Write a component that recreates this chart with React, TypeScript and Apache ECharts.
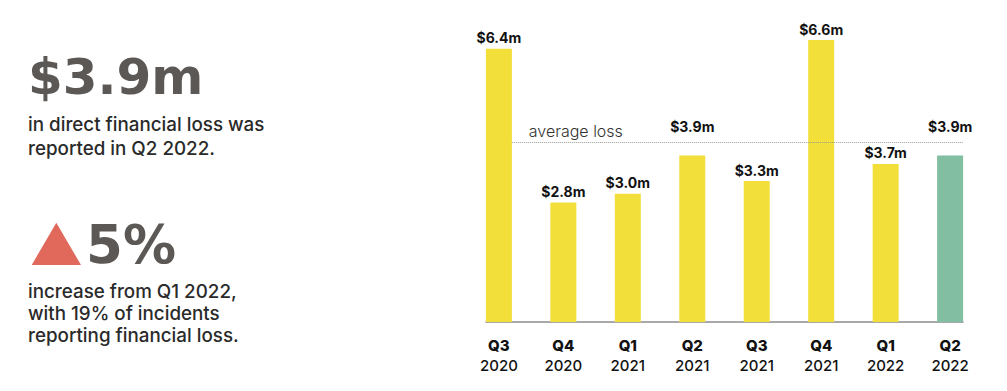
import React, { useEffect, useRef } from "react";
import * as echarts from "echarts";

const quarters = ["Q3", "Q4", "Q1", "Q2", "Q3", "Q4", "Q1", "Q2"];
const years = ["2020", "2020", "2021", "2021", "2021", "2021", "2022", "2022"];
const losses = [6.4, 2.8, 3.0, 3.9, 3.3, 6.6, 3.7, 3.9];
const headline = "$3.9m";
const headlineText = ["in direct financial loss was", "reported in Q2 2022."];
const changeValue = "5%";
const changeText = ["increase from Q1 2022,", "with 19% of incidents", "reporting financial loss."];
const averageLabel = "average loss";

const YELLOW = "#f2df3a";
const GREEN = "#82bea1";
const FONT = "Inter, 'Noto Sans', sans-serif";
const BIG_FONT = "'DejaVu Sans', sans-serif";

export default function App() {
  const ref = useRef<HTMLDivElement>(null);
  useEffect(() => {
    document.body.style.margin = "0";
    if (!ref.current) return;
    const chart = echarts.init(ref.current, null, { renderer: "svg" });
    const avg = losses.reduce((a, b) => a + b, 0) / losses.length;
    const last = losses.length - 1;
    const data = losses.map((v, i) => ({
      value: [i, v],
      itemStyle: { color: i === last ? GREEN : YELLOW },
      label: { distance: v <= avg && avg - v < 0.45 ? 22 : 4 },
    }));
    chart.setOption({
      animation: false,
      textStyle: { fontFamily: FONT },
      grid: { left: 486, right: 44, top: 23, bottom: 69 },
      xAxis: {
        type: "value",
        min: -0.2,
        max: last + 0.2,
        splitLine: { show: false },
        axisTick: { show: false },
        axisLine: { show: true, lineStyle: { color: "#8c8c8c", width: 1.5 } },
        axisLabel: {
          customValues: losses.map((_, i) => i),
          margin: 13,
          formatter: (v: number) => {
            const i = Math.round(v);
            return `{q|${quarters[i]}}\n{y|${years[i]}}`;
          },
          rich: {
            q: { fontFamily: FONT, fontWeight: 800, fontSize: 15, color: "#111", lineHeight: 20 },
            y: { fontFamily: FONT, fontWeight: 500, fontSize: 15, color: "#111", lineHeight: 20 },
          },
        },
      },
      yAxis: { type: "value", min: 0, max: 7, show: false, splitLine: { show: false } },
      series: [
        {
          type: "bar",
          barWidth: 26,
          data,
          label: {
            show: true,
            position: "top",
            fontFamily: FONT,
            fontWeight: 700,
            fontSize: 14,
            color: "#111",
            formatter: (p: any) => `$${p.value[1].toFixed(1)}m`,
          },
          markLine: {
            silent: true,
            symbol: "none",
            lineStyle: { type: "dotted", color: "#9a9a9a", width: 1 },
            label: {
              show: true,
              position: "insideStartTop",
              formatter: averageLabel,
              fontFamily: FONT,
              fontWeight: 300,
              fontSize: 16,
              color: "#333",
              distance: [17, 4],
            },
            data: [[{ coord: [0.2, avg] }, { coord: [last + 0.2, avg] }]],
          },
        },
      ],
      graphic: [
        {
          type: "text",
          left: 28,
          top: 52,
          style: { text: headline, font: `bold 50px ${BIG_FONT}`, fill: "#5b5855" },
        },
        ...headlineText.map((t, i) => ({
          type: "text",
          x: 28,
          y: 124 + i * 24,
          style: { text: t, font: `500 18.8px ${FONT}`, fill: "#2a2a2a", textVerticalAlign: "middle" },
        })),
        {
          type: "polygon",
          shape: { points: [[31.7, 265], [56.3, 222.7], [81, 265]] },
          style: { fill: "#e0695c" },
        },
        {
          type: "text",
          x: 86,
          y: 244,
          style: { text: changeValue, font: `bold 53px ${BIG_FONT}`, fill: "#5b5855", textVerticalAlign: "middle" },
        },
        ...changeText.map((t, i) => ({
          type: "text",
          x: 28,
          y: 291 + i * 22,
          style: { text: t, font: `500 18.8px ${FONT}`, fill: "#2a2a2a", textVerticalAlign: "middle" },
        })),
      ],
    });
    return () => chart.dispose();
  }, []);
  return <div ref={ref} style={{ width: 1007, height: 391 }} />;
}
